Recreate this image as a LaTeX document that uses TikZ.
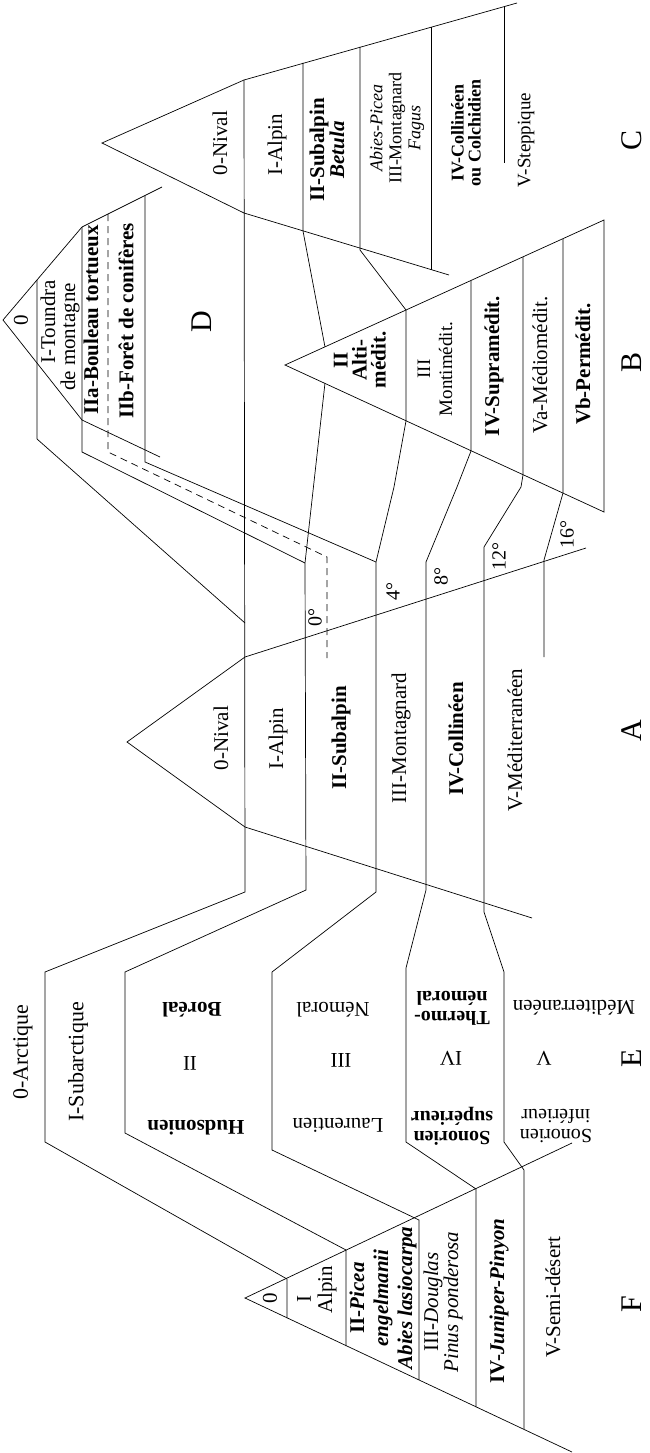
\documentclass[tikz,border=0pt]{standalone}
\usepackage{fontspec}
\setmainfont{Liberation Serif}
\tikzset{
  zone/.style={font=\fontsize{21}{22}\selectfont,rotate=90,inner sep=0pt,align=center},
  zoneflip/.style={font=\fontsize{21}{22}\selectfont,rotate=180,inner sep=0pt,align=center},
  letter/.style={font=\fontsize{30}{30}\selectfont,rotate=90,inner sep=0pt},
  temp/.style={font=\fontsize{20}{20}\selectfont,rotate=90,inner sep=0pt},
  limit/.style={dash pattern=on 7pt off 5pt}
}
\begin{document}
\begin{tikzpicture}[x=1pt,y=-1pt,line width=0.7pt]
\useasboundingbox (0,0) rectangle (649,1453);
% mountains C, D, B, A, F
\draw (517,3) -- (244,80) -- (102,143) -- (244,213) -- (449,275);
\draw (162,187) -- (82,227) -- (3,320) -- (82,420) -- (160,457);
\draw (604,220) -- (285,365) -- (604,512) -- cycle;
\draw (586,548) -- (245,657) -- (127,742) -- (245,827) -- (532,918);
\draw (572,1143) -- (245,1298) -- (572,1452);
% short limits in C and D
\draw (303,63) -- (303,231) -- (325,347);
\draw (360,47) -- (360,250) -- (406,310);
\draw (431,27) -- (431,270);
\draw (504,7) -- (504,163);
\draw (37,280) -- (37,439) -- (245,623);
\draw (82,227) -- (82,452) -- (305,563);
\draw[limit] (108,214) -- (108,452) -- (327,557) -- (327,658);
\draw (145,196) -- (145,462) -- (376,562);
% limits in B
\draw (406,310) -- (406,421) -- (394,487) -- (376,562);
\draw (471,281) -- (471,451) -- (457,487) -- (426,562);
\draw (523,257) -- (523,475) -- (521,487) -- (484,547);
\draw (563,239) -- (563,493) -- (544,560) -- (544,657);
% long limits through A, E and F
\draw (244,80) -- (245,892) -- (45,972) -- (45,1142) -- (287,1279) -- (287,1318);
\draw (325,383) -- (305,563) -- (306,890) -- (125,972) -- (125,1133) -- (346,1250) -- (346,1346);
\draw (376,562) -- (376,892) -- (272,972) -- (272,1150) -- (419,1220) -- (419,1380);
\draw (426,562) -- (426,890) -- (406,968) -- (406,1142) -- (476,1189) -- (476,1407);
\draw (484,547) -- (484,912) -- (504,972) -- (504,1142) -- (524,1170) -- (524,1429);
% C
\node[zone] (cnival) at (220,143) {0-Nival};
\node[zone] (calpin) at (277,145) {I-Alpin};
\node[zone,font=\fontsize{21}{18}\selectfont] (csub) at (327,150) {\textbf{II-Subalpin}\\\textbf{\textit{Betula}}};
\node[zone,font=\fontsize{18}{19}\selectfont] (cmont) at (397,128) {\textit{Abies-Picea}\\III-Montagnard\\\textit{Fagus}};
\node[zone,font=\fontsize{18}{17}\selectfont] (ccoll) at (466,133) {\textbf{IV-Collinéen}\\\textbf{ou Colchidien}};
\node[zone,font=\fontsize{19}{19}\selectfont] (cstep) at (526,140) {V-Steppique};
\node[letter] (lc) at (632,140) {C};
% D
\node[zone] (dzero) at (21,320) {0};
\node[zone] (dtound) at (48,322) {I-Toundra};
\node[zone] (dmont) at (70,337) {de montagne};
\node[zone] (dboul) at (91,320) {\textbf{IIa-Bouleau tortueux}};
\node[zone] (dconif) at (126,321) {\textbf{IIb-Forêt de conifères}};
\node[letter] (ld) at (202,322) {D};
% B
\node[zone,font=\fontsize{21}{19}\selectfont] (balti) at (360,360) {\textbf{II}\\\textbf{Alti-}\\\textbf{médit.}};
\node[zone,font=\fontsize{19}{22}\selectfont] (bmonti) at (435,369) {III\\Montimédit.};
\node[zone] (bsupra) at (494,366) {\textbf{IV-Supramédit.}};
\node[zone] (bmedio) at (540,365) {Va-Médiomédit.};
\node[zone] (bper) at (583,364) {\textbf{Vb-Permédit.}};
\node[letter] (lb) at (632,362) {B};
% A
\node[zone] (anival) at (221,738) {0-Nival};
\node[zone] (aalpin) at (278,739) {I-Alpin};
\node[zone] (asub) at (341,738) {\textbf{II-Subalpin}};
\node[zone] (amont) at (401,738) {III-Montagnard};
\node[zone] (acoll) at (456,739) {\textbf{IV-Collinéen}};
\node[zone] (amedit) at (515,740) {V-Méditerranéen};
\node[letter] (la) at (632,731) {A};
\node[temp] (t0) at (315,617) {0°};
\node[temp] (t4) at (393,591) {4°};
\node[temp] (t8) at (441,576) {8°};
\node[temp] (t12) at (499,556) {12°};
\node[temp] (t16) at (567,534) {16°};
% E
\node[zone,font=\fontsize{22}{22}\selectfont] (earct) at (23,1052) {0-Arctique};
\node[zone,font=\fontsize{22}{22}\selectfont] (esubarct) at (78,1062) {I-Subarctique};
\node[zoneflip] (ebor) at (192,1010) {\textbf{Boréal}};
\node[zoneflip] (eii) at (190,1063) {II};
\node[zoneflip] (ehud) at (196,1128) {\textbf{Hudsonien}};
\node[zoneflip] (enem) at (333,1010) {Némoral};
\node[zoneflip] (eiii) at (341,1060) {III};
\node[zoneflip] (elaur) at (338,1125) {Laurentien};
\node[zoneflip,font=\fontsize{20}{20}\selectfont] (etherm) at (452,1008) {\textbf{Thermo-}\\\textbf{némoral}};
\node[zoneflip] (eiv) at (451,1058) {IV};
\node[zoneflip,font=\fontsize{20}{20}\selectfont] (esonsup) at (452,1126) {\textbf{Sonorien}\\\textbf{supérieur}};
\node[zoneflip] (emedit) at (574,1008) {Méditerranéen};
\node[zoneflip] (ev) at (544,1058) {V};
\node[zoneflip,font=\fontsize{20}{20}\selectfont] (esoninf) at (556,1126) {Sonorien\\inférieur};
\node[letter] (le) at (632,1058) {E};
% F
\node[zone] (fzero) at (270,1298) {0};
\node[zone] (fi) at (304,1299) {I};
\node[zone] (falpin) at (327,1290) {Alpin};
\node[zone,font=\fontsize{21}{24}\selectfont] (fpicea) at (383,1298) {\textbf{II-\textit{Picea}}\\\textbf{\textit{engelmanii}}\\\textbf{\textit{Abies lasiocarpa}}};
\node[zone,font=\fontsize{21}{20}\selectfont] (fdoug) at (443,1302) {III-\textit{Douglas}\\\textit{Pinus ponderosa}};
\node[zone] (fjun) at (499,1301) {\textbf{IV-\textit{Juniper-Pinyon}}};
\node[zone] (fsemi) at (553,1297) {V-Semi-désert};
\node[letter] (lf) at (632,1304) {F};
\end{tikzpicture}
\end{document}
